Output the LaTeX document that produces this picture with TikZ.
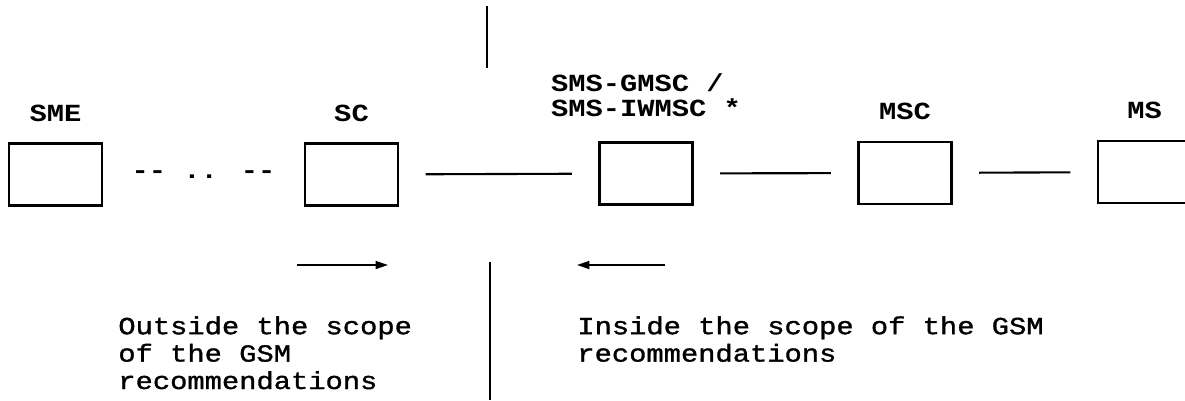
\documentclass[tikz,border=0pt]{standalone}
\usepackage{fontspec}
\newfontfamily\gsmfont[FakeStretch=1.17]{Liberation Mono}
\newfontfamily\gsmtext[FakeStretch=1.17, FakeBold=1.3]{Liberation Mono}
\usetikzlibrary{positioning, arrows.meta}
\tikzset{>={Triangle[length=7pt,width=4.5pt]}, node distance=0.3cm,
entity/.style={draw, line width=1.2pt, minimum width=1.86cm, minimum height=1.24cm, inner sep=0pt},
name label/.style={font={\gsmfont\bfseries\fontsize{14}{14.2}\selectfont}},
scope text/.style={font={\gsmtext\fontsize{14}{15.6}\selectfont}, align=left, anchor=north west, inner sep=0pt},
link/.style={line width=1.2pt, shorten >=0.53cm, shorten <=0.53cm},
}
\begin{document}
\begin{tikzpicture}[x=0.02cm, y=-0.02cm]
            \useasboundingbox (0,0) rectangle (1185,400);
            \node[entity](sme) at (55.5,174.5) {};
            \node[entity](sc) at (351.5,174.5) {};
            \node[entity](gmsc) at (646,173.5) {};
            \node[entity](msc) at (905,173) {};
            \node[entity](ms) at (1144.5,172) {};

            \node[name label, above=of sme](sme label) {SME};
            \node[name label, above=of sc](sc label) {SC};
            \node[name label, above=0.38cm of gmsc, align=left](gmsc label) {SMS-GMSC /\\SMS-IWMSC *};
            \node[name label, above=of msc](msc label) {MSC};
            \node[name label, above=of ms](ms label) {MS};

            \path (sme) -- node[name label](chain) {-- .. --} (sc);
            \draw[link] (sc) edge (gmsc)
                        (gmsc) edge (msc)
                        (msc) edge (ms);

            \coordinate (top a) at (487,6);
            \coordinate (top b) at (487,68);
            \coordinate (bottom a) at (490,262);
            \coordinate (bottom b) at (490,400);
            \draw[line width=1pt] (top a) -- (top b)
                                  (bottom a) -- (bottom b);

            \coordinate (out from) at (297,265);
            \coordinate (out to) at (388,265);
            \coordinate (in from) at (665,265);
            \coordinate (in to) at (577,265);
            \draw[->, line width=1pt] (out from) -- (out to);
            \draw[->, line width=1pt] (in from) -- (in to);

            \node[scope text](outside) at (118,316) {Outside the scope\\of the GSM\\recommendations};
            \node[scope text](inside) at (577,316) {Inside the scope of the GSM\\recommendations};
        \end{tikzpicture}
\end{document}
